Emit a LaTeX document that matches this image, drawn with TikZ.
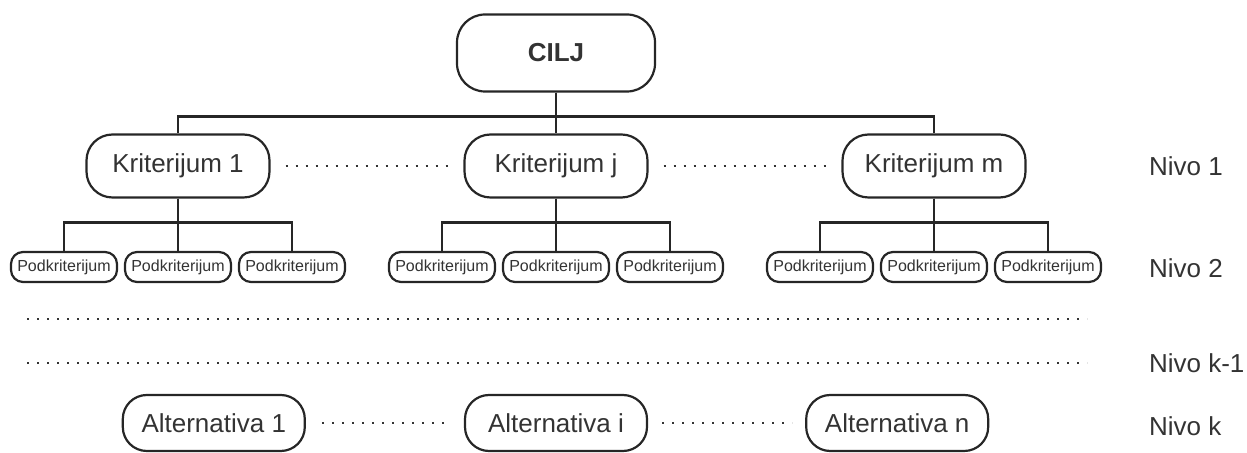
\documentclass[tikz,border=0pt]{standalone}
\usepackage{fontspec}
\setmainfont{Liberation Sans}
\usetikzlibrary{trees,positioning}

\begin{document}
\begin{tikzpicture}[x=0.5pt, y=-0.5pt,
   level 1/.style = {sibling distance=189pt, level distance=56.5pt},
   level 2/.style = {sibling distance=57pt, level distance=50.5pt},
edge from parent/.style = {draw=black!85, line width=1.1pt},
edge from parent path = {(\tikzparentnode.south) -- ++(0,-12pt)
                         -| (\tikzchildnode.north)},
every node/.style = {draw=black!85, line width=1.1pt, text=black!80,
                     inner sep=0pt},
      goal/.style = {rounded corners=14pt, minimum width=99pt,
                     minimum height=38.5pt,
                     font=\fontsize{13}{15}\selectfont\bfseries},
      krit/.style = {rounded corners=13pt, minimum width=91.5pt,
                     minimum height=31.5pt, font=\fontsize{13}{15}\selectfont},
       pod/.style = {rounded corners=6pt, minimum width=53pt,
                     minimum height=15pt, font=\fontsize{8}{10}\selectfont},
       alt/.style = {rounded corners=12pt, minimum width=91pt,
                     minimum height=28pt, font=\fontsize{13}{15}\selectfont},
       lvl/.style = {draw=none, anchor=west,% level label
                     font=\fontsize{13}{15}\selectfont},
      dots/.style = {draw=black!80, line width=1.1pt,
                     dash pattern=on 1.1pt off 3.9pt}
                        ]
\useasboundingbox (0,0) rectangle (1247,453);
%
\node[goal] (cilj) at (556,53) {CILJ}
    child {node[krit] (k1) {Kriterijum 1}
        child {node[pod] (p11) {Podkriterijum}}
        child {node[pod] (p12) {Podkriterijum}}
        child {node[pod] (p13) {Podkriterijum}}
          }
    child {node[krit] (kj) {Kriterijum j}
        child {node[pod] (pj1) {Podkriterijum}}
        child {node[pod] (pj2) {Podkriterijum}}
        child {node[pod] (pj3) {Podkriterijum}}
          }
    child {node[krit] (km) {Kriterijum m}
        child {node[pod] (pm1) {Podkriterijum}}
        child {node[pod] (pm2) {Podkriterijum}}
        child {node[pod] (pm3) {Podkriterijum}}
          };
%
\draw[dots] ([xshift=7.5pt]k1.east) -- ([xshift=-7.5pt]kj.west);
\draw[dots] ([xshift=7.5pt]kj.east) -- ([xshift=-7.5pt]km.west);
%
\draw[dots] (27,319) -- (1087,319);
\draw[dots] (27,363) -- (1087,363);
%
\node[alt] (ai) at (556,423) {Alternativa i};
\node[alt, left=79pt of ai]    (a1) {Alternativa 1};
\node[alt, right=78.5pt of ai] (an) {Alternativa n};
\draw[dots] ([xshift=8pt]a1.east) -- ([xshift=-6.5pt]ai.west);
\draw[dots] ([xshift=7pt]ai.east) -- ([xshift=-6.5pt]an.west);
%
\node[lvl] (n1)  at (1148,166) {Nivo 1};
\node[lvl] (n2)  at (1148,268) {Nivo 2};
\node[lvl] (nk1) at (1148,363) {Nivo k-1};
\node[lvl] (nk)  at (1148,426) {Nivo k};
\end{tikzpicture}
\end{document}
